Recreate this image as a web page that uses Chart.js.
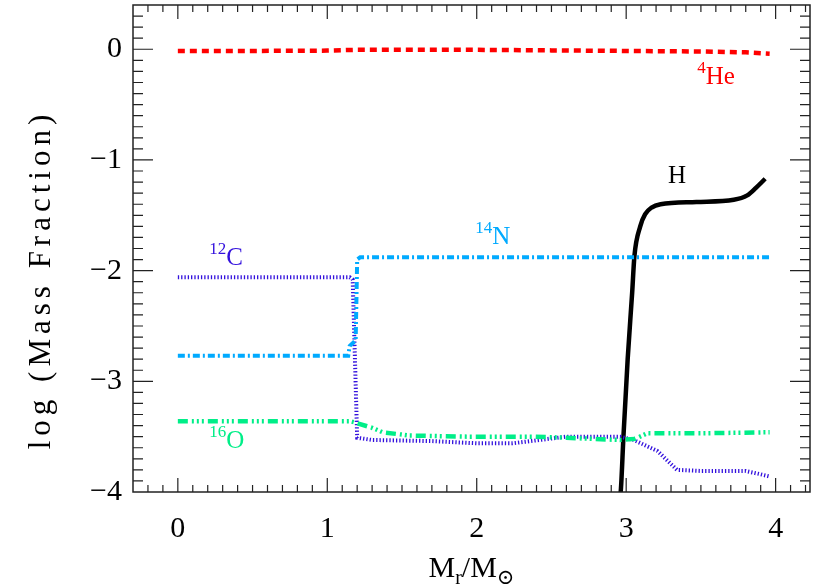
<!DOCTYPE html>
<html>
<head>
<meta charset="utf-8">
<script src="https://cdn.jsdelivr.net/npm/chart.js@4/dist/chart.umd.min.js"></script>
<style>
  html, body { margin: 0; padding: 0; background: #fff; }
  canvas { display: block; }
</style>
</head>
<body>
<canvas id="mycanvas" width="830" height="588"></canvas>
<script>
// Mr/Msun (x) against log mass fraction (y)
var heX = [0, 0.5, 1.0, 1.2, 2.0, 2.5, 3.0, 3.5, 3.8, 3.96];
var heY = [-0.015, -0.015, -0.012, -0.005, -0.005, -0.01, -0.015, -0.02, -0.028, -0.04];

var cX = [0, 1.15, 1.17, 1.2, 1.3, 1.7, 2.0, 2.24, 2.42, 2.6, 2.96, 3.05, 3.21, 3.34, 3.5, 3.8, 3.9, 3.96];
var cY = [-2.06, -2.06, -2.08, -3.51, -3.53, -3.54, -3.56, -3.56, -3.53, -3.50, -3.50, -3.53, -3.63, -3.80, -3.81, -3.81, -3.84, -3.86];

var nX = [0, 1.14, 1.15, 1.19, 1.2, 1.22, 2.0, 3.0, 3.96];
var nY = [-2.77, -2.77, -2.68, -2.63, -1.90, -1.88, -1.88, -1.88, -1.88];

var oX = [0, 1.15, 1.18, 1.3, 1.37, 1.55, 1.94, 2.38, 2.6, 2.78, 2.96, 3.06, 3.14, 3.5, 3.96];
var oY = [-3.36, -3.36, -3.37, -3.42, -3.46, -3.49, -3.50, -3.50, -3.51, -3.52, -3.53, -3.52, -3.47, -3.47, -3.46];

var hX = [2.955, 2.965, 2.982, 3.01, 3.04, 3.055, 3.094, 3.127, 3.17, 3.23, 3.47, 3.72, 3.81, 3.87, 3.93];
var hY = [-4.1, -3.97, -3.49, -2.80, -2.20, -1.87, -1.60, -1.49, -1.43, -1.40, -1.38, -1.36, -1.32, -1.25, -1.17];

var xTicks = [0, 1, 2, 3, 4];
var yTicks = [-4, -3, -2, -1, 0];

var serif = "'Liberation Serif', 'DejaVu Serif', serif";

function pts(xs, ys) {
  var out = [];
  for (var i = 0; i < xs.length; i++) out.push({x: xs[i], y: ys[i]});
  return out;
}

// curve names written next to each line
var curveLabels = [
  {sup: '4',  main: 'He', x: 3.475, y: -0.31, color: '#ff0000'},
  {sup: '',   main: 'H',  x: 3.28,  y: -1.21, color: '#000000'},
  {sup: '14', main: 'N',  x: 1.99,  y: -1.76, color: '#00aaff'},
  {sup: '12', main: 'C',  x: 0.21,  y: -1.95, color: '#3311dd'},
  {sup: '16', main: 'O',  x: 0.21,  y: -3.60, color: '#00ee88'}
];

var frame = {
  id: 'frame',
  afterDatasetsDraw: function(chart) {
    var ctx = chart.ctx, a = chart.chartArea;
    var sx = chart.scales.x, sy = chart.scales.y;
    ctx.save();
    ctx.strokeStyle = '#222';
    ctx.lineWidth = 1.5;
    ctx.strokeRect(a.left, a.top, a.right - a.left, a.bottom - a.top);
    ctx.lineWidth = 1.2;
    ctx.beginPath();
    for (var k = -2; k <= 42; k++) {
      var px = sx.getPixelForValue(k / 10);
      if (px <= a.left || px >= a.right) continue;
      var len = (k % 10 === 0) ? 14 : 7;
      ctx.moveTo(px, a.bottom); ctx.lineTo(px, a.bottom - len);
      ctx.moveTo(px, a.top); ctx.lineTo(px, a.top + len);
    }
    for (k = -39; k <= 4; k++) {
      var py = sy.getPixelForValue(k / 10);
      if (py <= a.top || py >= a.bottom) continue;
      var ylen = (k % 10 === 0) ? 20 : 10;
      ctx.moveTo(a.left, py); ctx.lineTo(a.left + ylen, py);
      ctx.moveTo(a.right, py); ctx.lineTo(a.right - ylen, py);
    }
    ctx.stroke();

    // curve labels
    ctx.textBaseline = 'alphabetic';
    ctx.textAlign = 'left';
    curveLabels.forEach(function(l) {
      var lx = sx.getPixelForValue(l.x), ly = sy.getPixelForValue(l.y);
      ctx.fillStyle = l.color;
      ctx.font = '17px ' + serif;
      ctx.fillText(l.sup, lx, ly - 11);
      var w = ctx.measureText(l.sup).width;
      ctx.font = '25px ' + serif;
      ctx.fillText(l.main, lx + w, ly);
    });

    // x axis title  M_r / M_sun
    var parts = [
      {t: 'M', size: 30, dy: 0},
      {t: 'r', size: 20, dy: 7},
      {t: '/', size: 30, dy: 0},
      {t: 'M', size: 30, dy: 0},
      {t: '\u2299', size: 21, dy: 7}
    ];
    var total = 0;
    parts.forEach(function(p) {
      ctx.font = p.size + 'px ' + serif;
      p.w = ctx.measureText(p.t).width;
      total += p.w;
    });
    var tx = (a.left + a.right) / 2 - total / 2, base = 577;
    ctx.fillStyle = '#000';
    parts.forEach(function(p) {
      ctx.font = p.size + 'px ' + serif;
      ctx.fillText(p.t, tx, base + p.dy);
      tx += p.w;
    });

    // y axis title, rotated, spaced out like a typewriter face
    ctx.save();
    ctx.translate(42, (a.top + a.bottom) / 2 + 31);
    ctx.rotate(-Math.PI / 2);
    ctx.font = '31px ' + serif;
    ctx.letterSpacing = '5px';
    ctx.textAlign = 'center';
    ctx.textBaseline = 'middle';
    ctx.fillText('log (Mass Fraction)', 0, 0);
    ctx.restore();
    ctx.restore();
  }
};

var chartdata = {
  datasets: [
    {
      label: '4He',
      data: pts(heX, heY),
      borderColor: '#ff0000',
      borderWidth: 4.5,
      borderDash: [7, 5]
    },
    {
      label: '14N',
      data: pts(nX, nY),
      borderColor: '#00aaff',
      borderWidth: 4,
      borderDash: [7, 3, 2, 3]
    },
    {
      label: '16O',
      data: pts(oX, oY),
      borderColor: '#00ee88',
      borderWidth: 4.5,
      borderDash: [10, 4, 2, 3, 2, 3, 2, 4]
    },
    {
      label: '12C',
      data: pts(cX, cY),
      borderColor: '#3311dd',
      borderWidth: 4,
      borderDash: [1.3, 2]
    },
    {
      label: 'H',
      data: pts(hX, hY),
      borderColor: '#000000',
      borderWidth: 4.5,
      cubicInterpolationMode: 'monotone'
    }
  ]
};

chartdata.datasets.forEach(function(d) {
  d.showLine = true;
  d.pointRadius = 0;
  d.fill = false;
  d.clip = 0;
});

function noPad(scale) {
  scale.paddingTop = 0;
  scale.paddingBottom = 0;
  scale.paddingLeft = 0;
  scale.paddingRight = 0;
}

var ctx = document.getElementById('mycanvas');

var LineGraph = new Chart(ctx, {
  type: 'scatter',
  data: chartdata,
  plugins: [frame],
  options: {
    responsive: false,
    devicePixelRatio: 1,
    animation: false,
    layout: { padding: { left: 0, right: 20, top: 5, bottom: 0 } },
    plugins: {
      legend: { display: false },
      tooltip: { enabled: false }
    },
    scales: {
      x: {
        type: 'linear',
        min: -0.3,
        max: 4.23,
        grid: { display: false, drawTicks: false },
        border: { display: false },
        afterBuildTicks: function(scale) {
          scale.ticks = xTicks.map(function(v) { return {value: v}; });
        },
        afterFit: function(scale) { scale.height = 96; noPad(scale); },
        ticks: {
          padding: 19,
          color: '#000',
          font: { family: serif, size: 30 },
          maxRotation: 0,
          callback: function(v) { return String(v); }
        }
      },
      y: {
        type: 'linear',
        min: -4,
        max: 0.4,
        grid: { display: false, drawTicks: false },
        border: { display: false },
        afterBuildTicks: function(scale) {
          scale.ticks = yTicks.map(function(v) { return {value: v}; });
        },
        afterFit: function(scale) { scale.width = 133; noPad(scale); },
        ticks: {
          padding: 11,
          color: '#000',
          font: { family: serif, size: 30 },
          callback: function(v) { return v < 0 ? '\u2212' + (-v) : String(v); }
        }
      }
    }
  }
});
</script>
</body>
</html>
